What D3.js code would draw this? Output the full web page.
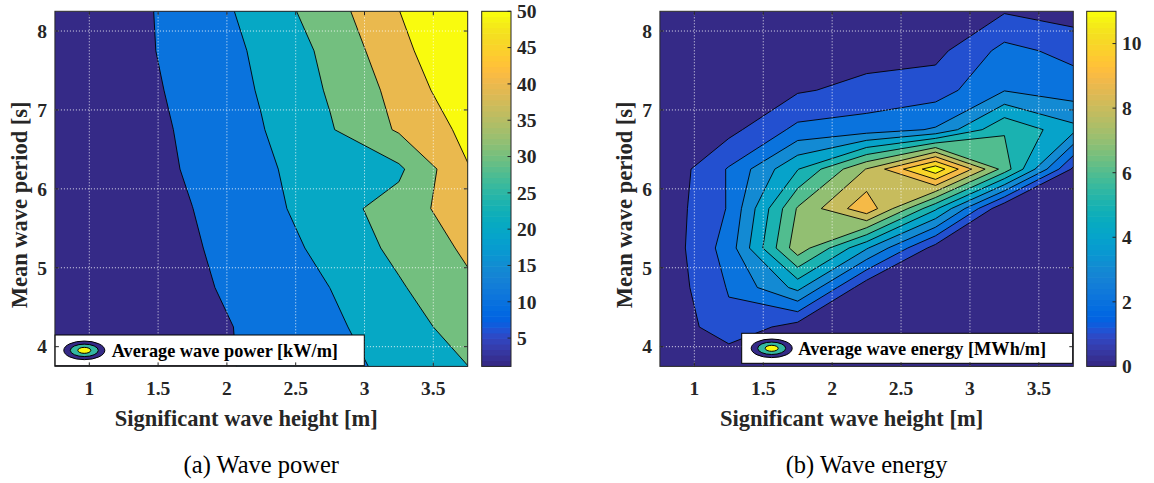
<!DOCTYPE html>
<html><head><meta charset="utf-8">
<script src="https://cdn.jsdelivr.net/npm/d3@7"></script>
<style>
body{margin:0;background:#fff;}
svg text{font-family:"Liberation Serif","Times New Roman",Times,serif;fill:#262626;}
</style></head><body>
<svg id="chart" width="1154" height="483"></svg>
<script>
// ---------------- DATA ----------------
const hsGrid = [0.75, 1.25, 1.75, 2.25, 2.75, 3.25, 3.75];          // significant wave height [m]
const tGrid  = [3.75, 4.25, 4.75, 5.25, 5.75, 6.25, 6.75, 7.25, 7.75, 8.25]; // mean wave period [s]

// average wave power [kW/m], one row per period (bottom -> top), one column per height
const powerValues = [
  [1.1, 3.6, 7.2, 11.6, 16.5, 22.8, 29.9],
  [1.5, 3.8, 7.5, 11.7, 17.9, 26.0, 34.0],
  [1.7, 4.2, 8.5, 13.1, 20.05, 28.95, 38.2],
  [1.8, 4.6, 9.2, 14.3, 23.3, 32.4, 41.7],
  [1.9, 5.0, 9.95, 16.15, 26.5, 33.8, 47.2],
  [2.1, 5.5, 11.0, 18.2, 25.5, 28.2, 49.5],
  [2.2, 6.1, 11.5, 19.5, 29.2, 41.2, 52.5],
  [2.3, 6.4, 12.55, 20.75, 31.0, 43.3, 57.7],
  [2.4, 7.2, 13.2, 21.8, 32.5, 47.0, 60.5],
  [2.5, 6.95, 13.95, 23.9, 35.8, 49.8, 66.0]
];
// average wave energy [MWh/m]
const energyValues = [
  [0.0, 0.0, 0.0, 0.0, 0.0, 0.0, 0.0],
  [0.0, 1.75, 0.55, 0.05, 0.0, 0.0, 0.0],
  [0.17, 2.08, 4.3, 0.3, 0.05, 0.0, 0.0],
  [0.15, 2.45, 7.62, 4.1, 0.58, 0.0, 0.0],
  [0.28, 2.08, 7.1, 9.73, 5.17, 0.08, 0.0],
  [0.1, 2.09, 4.95, 8.05, 11.7, 6.56, 0.8],
  [0.05, 0.69, 2.26, 2.5, 3.1, 5.9, 4.3],
  [0.0, 0.4, 0.89, 1.29, 1.53, 2.95, 2.49],
  [0.0, 0.15, 0.45, 0.6, 0.7, 2.3, 1.7],
  [0.0, 0.0, 0.1, 0.3, 0.6, 0.92, 0.53]
];
const powerLevels  = [10, 20, 30, 40, 50];
const energyLevels = [1, 2, 3, 4, 5, 6, 7, 8, 9, 10, 11];
const powerRange  = [1.1, 50];
const energyRange = [0, 11];
const xTicks = [1, 1.5, 2, 2.5, 3, 3.5];
const yTicks = [4, 5, 6, 7, 8];
const powerBarTicks  = [5, 10, 15, 20, 25, 30, 35, 40, 45, 50];
const energyBarTicks = [0, 2, 4, 6, 8, 10];
const xDomain = [0.75, 3.75];
const yDomain = [3.75, 8.25];

// parula colormap (64 entries)
const parula = [
[0.2081,0.1663,0.5292],[0.2116,0.1898,0.5777],[0.2123,0.2138,0.6270],[0.2081,0.2386,0.6771],
[0.1959,0.2645,0.7279],[0.1707,0.2919,0.7792],[0.1253,0.3242,0.8303],[0.0591,0.3598,0.8683],
[0.0117,0.3875,0.8820],[0.0060,0.4086,0.8828],[0.0165,0.4266,0.8786],[0.0329,0.4430,0.8720],
[0.0498,0.4586,0.8641],[0.0629,0.4737,0.8554],[0.0723,0.4887,0.8467],[0.0779,0.5040,0.8384],
[0.0793,0.5200,0.8312],[0.0749,0.5375,0.8263],[0.0641,0.5570,0.8240],[0.0488,0.5772,0.8228],
[0.0343,0.5966,0.8199],[0.0265,0.6137,0.8135],[0.0239,0.6287,0.8038],[0.0231,0.6418,0.7913],
[0.0228,0.6535,0.7768],[0.0267,0.6642,0.7607],[0.0384,0.6743,0.7436],[0.0590,0.6838,0.7254],
[0.0843,0.6928,0.7062],[0.1133,0.7015,0.6859],[0.1453,0.7098,0.6646],[0.1801,0.7177,0.6424],
[0.2178,0.7250,0.6193],[0.2586,0.7317,0.5954],[0.3022,0.7376,0.5712],[0.3482,0.7424,0.5473],
[0.3953,0.7459,0.5244],[0.4420,0.7481,0.5033],[0.4871,0.7491,0.4840],[0.5300,0.7491,0.4661],
[0.5709,0.7485,0.4494],[0.6099,0.7473,0.4337],[0.6473,0.7456,0.4188],[0.6834,0.7435,0.4044],
[0.7184,0.7411,0.3905],[0.7525,0.7384,0.3768],[0.7858,0.7356,0.3633],[0.8185,0.7327,0.3498],
[0.8507,0.7299,0.3360],[0.8824,0.7274,0.3217],[0.9139,0.7258,0.3063],[0.9450,0.7261,0.2886],
[0.9739,0.7314,0.2666],[0.9938,0.7455,0.2403],[0.9990,0.7653,0.2164],[0.9955,0.7861,0.1967],
[0.9880,0.8066,0.1794],[0.9789,0.8271,0.1633],[0.9697,0.8481,0.1475],[0.9626,0.8705,0.1309],
[0.9589,0.8949,0.1132],[0.9598,0.9218,0.0948],[0.9661,0.9514,0.0755],[0.9763,0.9831,0.0538]];
function parulaAt(t){
  t = Math.max(0, Math.min(1, t));
  const f = t*63, i = Math.floor(f), j = Math.min(63, i+1), w = f - i;
  const c = parula[i].map((v,k)=> v*(1-w) + parula[j][k]*w);
  return d3.rgb(c[0]*255, c[1]*255, c[2]*255).formatHex();
}

// ---------------- DRAW ----------------
const svg = d3.select('#chart');
const defs = svg.append('defs');
const AX = '#262626';
const TICKFS = 19.5;

function drawPanel(cfg){
  const {x0,x1,y0,y1} = cfg.plot;
  const xs = d3.scaleLinear().domain(xDomain).range([x0,x1]);
  const ys = d3.scaleLinear().domain(yDomain).range([y1,y0]);
  const clipId = 'clip'+cfg.id;
  defs.append('clipPath').attr('id',clipId).append('rect')
    .attr('x',x0).attr('y',y0).attr('width',x1-x0).attr('height',y1-y0);
  const g = svg.append('g');
  const body = g.append('g').attr('clip-path',`url(#${clipId})`);
  const cmap = v => parulaAt((v-cfg.range[0])/(cfg.range[1]-cfg.range[0]));
  body.append('rect').attr('x',x0).attr('y',y0).attr('width',x1-x0).attr('height',y1-y0)
    .attr('fill', cmap(cfg.range[0]));
  const n = hsGrid.length, m = tGrid.length;
  const dh = hsGrid[1]-hsGrid[0], dt = tGrid[1]-tGrid[0];
  const proj = d3.geoTransform({point(px,py){
    this.stream.point(xs(hsGrid[0]+(px-0.5)*dh), ys(tGrid[0]+(py-0.5)*dt));
  }});
  const path = d3.geoPath(proj);
  const cs = d3.contours().size([n,m]).thresholds(cfg.levels)(cfg.values.flat());
  body.selectAll('path.c').data(cs).join('path').attr('class','c')
    .attr('d',path).attr('fill',d=>cmap(d.value)).attr('fill-rule','evenodd')
    .attr('stroke','#000').attr('stroke-width',0.9).attr('stroke-linejoin','round');
  // grid
  const grid = g.append('g').attr('stroke','#ffffff').attr('stroke-opacity',0.85)
    .attr('stroke-width',1).attr('stroke-dasharray','1,2');
  xTicks.forEach(t=>grid.append('line').attr('x1',xs(t)).attr('x2',xs(t)).attr('y1',y0).attr('y2',y1));
  yTicks.forEach(t=>grid.append('line').attr('y1',ys(t)).attr('y2',ys(t)).attr('x1',x0).attr('x2',x1));
  // legend
  const L = cfg.legend;
  g.append('rect').attr('x',L.x).attr('y',L.y).attr('width',L.w).attr('height',L.h)
    .attr('fill','#fff').attr('stroke','#000').attr('stroke-width',1);
  [[20.5,9.3,parulaAt(0)],[14,6.2,parulaAt(0.5)],[6.5,3,parulaAt(1)]].forEach(([rx,ry,c])=>{
    g.append('ellipse').attr('cx',L.x+L.icx).attr('cy',L.y+L.h/2).attr('rx',rx).attr('ry',ry)
      .attr('fill',c).attr('stroke','#000').attr('stroke-width',1);
  });
  g.append('text').attr('x',L.x+L.tx).attr('y',L.y+L.h/2).attr('dy','0.35em')
    .attr('font-size',18.3).attr('font-weight','bold').style('fill','#000').text(L.text);
  // axes box and ticks
  g.append('rect').attr('x',x0).attr('y',y0).attr('width',x1-x0).attr('height',y1-y0)
    .attr('fill','none').attr('stroke',AX).attr('stroke-width',1);
  const tk = g.append('g').attr('stroke',AX).attr('stroke-width',1);
  xTicks.forEach(t=>{
    tk.append('line').attr('x1',xs(t)).attr('x2',xs(t)).attr('y1',y1).attr('y2',y1-4);
    tk.append('line').attr('x1',xs(t)).attr('x2',xs(t)).attr('y1',y0).attr('y2',y0+4);
  });
  yTicks.forEach(t=>{
    tk.append('line').attr('y1',ys(t)).attr('y2',ys(t)).attr('x1',x0).attr('x2',x0+4);
    tk.append('line').attr('y1',ys(t)).attr('y2',ys(t)).attr('x1',x1).attr('x2',x1-4);
  });
  xTicks.forEach(t=>g.append('text').attr('x',xs(t)).attr('y',395).attr('text-anchor','middle')
    .attr('font-size',TICKFS).attr('font-weight','bold').text(d3.format('~g')(t)));
  yTicks.forEach(t=>g.append('text').attr('x',x0-8).attr('y',ys(t)).attr('dy','0.35em')
    .attr('text-anchor','end').attr('font-size',TICKFS).attr('font-weight','bold').text(t));
  g.append('text').attr('x',(x0+x1)/2-15).attr('y',426).attr('text-anchor','middle')
    .attr('font-size',22.5).attr('font-weight','bold').text('Significant wave height [m]');
  g.append('text').attr('transform',`translate(${x0-28},${(y0+y1)/2+16}) rotate(-90)`)
    .attr('text-anchor','middle').attr('font-size',22.5).attr('font-weight','bold')
    .text('Mean wave period [s]');
  g.append('text').attr('x',(x0+x1)/2).attr('y',473).attr('text-anchor','middle')
    .attr('font-size',24.5).style('fill','#000').text(cfg.caption);
  // colorbar
  const cb = cfg.cbar;
  const cs2 = d3.scaleLinear().domain(cfg.range).range([y1,y0]);
  const nb = parula.length, bh = (y1-y0)/nb;
  for(let k=0;k<nb;k++){
    g.append('rect').attr('x',cb.x0).attr('width',cb.x1-cb.x0)
      .attr('y',y1-(k+1)*bh-0.3).attr('height',bh+0.6).attr('fill',parulaAt(k/(nb-1)));
  }
  g.append('rect').attr('x',cb.x0).attr('y',y0).attr('width',cb.x1-cb.x0).attr('height',y1-y0)
    .attr('fill','none').attr('stroke',AX).attr('stroke-width',1);
  cfg.barTicks.forEach(t=>{
    g.append('line').attr('x1',cb.x1).attr('x2',cb.x1-3.5).attr('y1',cs2(t)).attr('y2',cs2(t))
      .attr('stroke',AX).attr('stroke-width',1);
    g.append('text').attr('x',cb.x1+6).attr('y',cs2(t)).attr('dy','0.35em')
      .attr('font-size',TICKFS).attr('font-weight','bold').text(t);
  });
}

drawPanel({id:'a', plot:{x0:54.9,x1:467.7,y0:11.3,y1:366.4}, values:powerValues,
  levels:powerLevels, range:powerRange, barTicks:powerBarTicks,
  cbar:{x0:481.7,x1:511}, caption:'(a) Wave power',
  legend:{x:55,y:335,w:309.3,h:30.7,icx:29.3,tx:56.7,text:'Average wave power [kW/m]'}});
drawPanel({id:'b', plot:{x0:659.9,x1:1073.3,y0:11.3,y1:366.4}, values:energyValues,
  levels:energyLevels, range:energyRange, barTicks:energyBarTicks,
  cbar:{x0:1086.7,x1:1116}, caption:'(b) Wave energy',
  legend:{x:741.7,y:333.3,w:331,h:30,icx:30,tx:56.6,text:'Average wave energy [MWh/m]'}});
</script>
</body></html>
